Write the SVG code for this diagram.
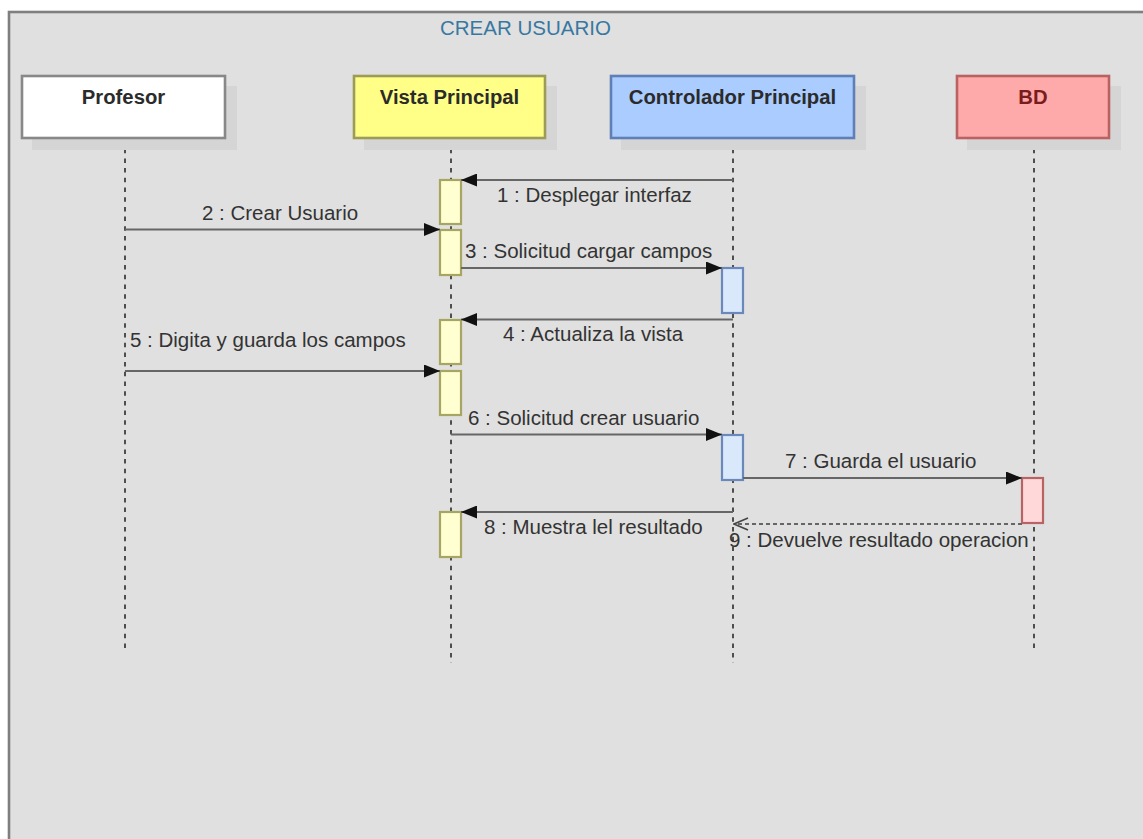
<svg xmlns="http://www.w3.org/2000/svg" width="1143" height="839" viewBox="0 0 1143 839">
  <style>
    .frame { fill: #e0e0e0; stroke: #7f7f7f; stroke-width: 2.6; }
    .title { font-family: "Liberation Sans", Arial, sans-serif; font-size: 20.5px; fill: #3878a0; }
    .shadow { fill: #d5d5d5; }
    .head { stroke-width: 2.6; }
    .hlabel { font-family: "Liberation Sans", Arial, sans-serif; font-size: 20.3px; font-weight: bold; fill: #2b2b2b; text-anchor: middle; }
    .life { stroke: #111; stroke-width: 1.4; stroke-dasharray: 4.5 5.2; fill: none; }
    .actY { fill: #ffffd2; stroke: #a6a662; stroke-width: 2.2; }
    .actB { fill: #dae8fc; stroke: #6a88bb; stroke-width: 2.2; }
    .actR { fill: #ffd9d9; stroke: #b86464; stroke-width: 2.2; }
    .msg { stroke: #666; stroke-width: 2.2; fill: none; }
    .ret { stroke: #666; stroke-width: 2; stroke-dasharray: 4 3; fill: none; }
    .mlabel { font-family: "Liberation Sans", Arial, sans-serif; font-size: 20.5px; fill: #333; }
  </style>
  <defs>
    <marker id="solid" viewBox="0 0 16 13" refX="16" refY="6.5" markerWidth="16" markerHeight="13" markerUnits="userSpaceOnUse" orient="auto">
      <path d="M0,0 L16,6.5 L0,13 Z" fill="#111"/>
    </marker>
    <marker id="open" viewBox="0 0 16 14" refX="15" refY="7" markerWidth="16" markerHeight="14" markerUnits="userSpaceOnUse" orient="auto">
      <path d="M1,1 L15,7 L1,13" fill="none" stroke="#444" stroke-width="1.6"/>
    </marker>
  </defs>

  <!-- outer frame -->
  <rect class="frame" x="9" y="12" width="1150" height="840"/>
  <text class="title" x="440" y="35">CREAR USUARIO</text>

  <!-- lifelines -->
  <g id="lifelines">
    <line class="life" x1="125" y1="139" x2="125" y2="652"/>
    <line class="life" x1="451" y1="139" x2="451" y2="663"/>
    <line class="life" x1="733" y1="139" x2="733" y2="663"/>
    <line class="life" x1="1034" y1="139" x2="1034" y2="652"/>
  </g>

  <g id="profesor">
    <rect class="shadow" x="32" y="86" width="205" height="64"/>
    <rect class="head" x="22" y="76" width="203" height="62" fill="#ffffff" stroke="#888888"/>
    <text class="hlabel" x="123.5" y="104">Profesor</text>
  </g>

  <g id="vista-principal">
    <rect class="shadow" x="364" y="86" width="193" height="64"/>
    <rect class="head" x="354" y="76" width="191" height="62" fill="#ffff88" stroke="#9c9c58"/>
    <text class="hlabel" x="449.5" y="104">Vista Principal</text>
    <rect class="actY" x="440" y="180" width="21" height="44"/>
    <rect class="actY" x="440" y="230" width="21" height="45"/>
    <rect class="actY" x="440" y="320" width="21" height="44"/>
    <rect class="actY" x="440" y="371" width="21" height="44"/>
    <rect class="actY" x="440" y="512" width="21" height="45"/>
  </g>

  <g id="controlador-principal">
    <rect class="shadow" x="621" y="86" width="245" height="64"/>
    <rect class="head" x="611" y="76" width="243" height="62" fill="#aaccff" stroke="#5f7fb8"/>
    <text class="hlabel" x="732.5" y="104">Controlador Principal</text>
    <rect class="actB" x="722" y="268" width="21" height="45"/>
    <rect class="actB" x="722" y="435" width="21" height="45"/>
  </g>

  <g id="bd">
    <rect class="shadow" x="967" y="86" width="154" height="64"/>
    <rect class="head" x="957" y="76" width="152" height="62" fill="#ffaaaa" stroke="#b86262"/>
    <text class="hlabel" x="1033" y="104" style="fill:#7a1c1c">BD</text>
    <rect class="actR" x="1022" y="478" width="21" height="45"/>
  </g>

  <!-- messages -->
  <g id="connectors">
    <line class="msg" x1="733" y1="180" x2="461" y2="180" marker-end="url(#solid)"/>
    <text class="mlabel" x="497" y="202">1 : Desplegar interfaz</text>

    <line class="msg" x1="125" y1="229.5" x2="440" y2="229.5" marker-end="url(#solid)"/>
    <text class="mlabel" x="202" y="220">2 : Crear Usuario</text>

    <line class="msg" x1="461" y1="268" x2="722" y2="268" marker-end="url(#solid)"/>
    <text class="mlabel" x="465" y="258">3 : Solicitud cargar campos</text>

    <line class="msg" x1="733" y1="319.5" x2="461" y2="319.5" marker-end="url(#solid)"/>
    <text class="mlabel" x="503" y="341">4 : Actualiza la vista</text>

    <line class="msg" x1="125" y1="371" x2="440" y2="371" marker-end="url(#solid)"/>
    <text class="mlabel" x="130" y="347">5 : Digita y guarda los campos</text>

    <line class="msg" x1="451" y1="434.5" x2="722" y2="434.5" marker-end="url(#solid)"/>
    <text class="mlabel" x="468" y="425">6 : Solicitud crear usuario</text>

    <line class="msg" x1="743" y1="478" x2="1022" y2="478" marker-end="url(#solid)"/>
    <text class="mlabel" x="785" y="468">7 : Guarda el usuario</text>

    <line class="msg" x1="733" y1="512" x2="461" y2="512" marker-end="url(#solid)"/>
    <text class="mlabel" x="484" y="534">8 : Muestra lel resultado</text>

    <line class="ret" x1="1022" y1="524" x2="734" y2="524" marker-end="url(#open)"/>
    <text class="mlabel" x="729" y="547">9 : Devuelve resultado operacion</text>
  </g>
</svg>
